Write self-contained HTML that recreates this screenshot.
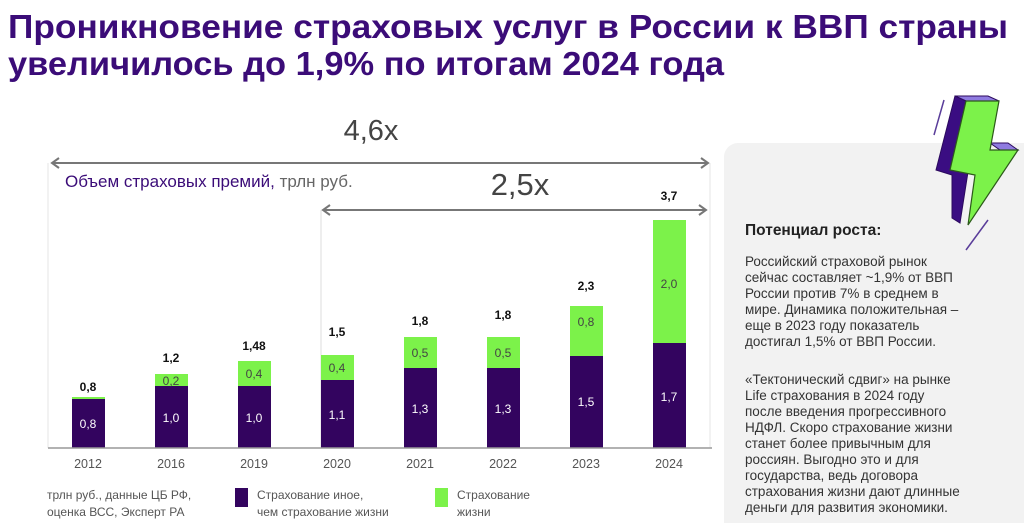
<!DOCTYPE html>
<html><head><meta charset="utf-8"><style>
html,body{margin:0;padding:0;background:#fff;width:1024px;height:523px;overflow:hidden}
svg{display:block}
text{font-family:"Liberation Sans",sans-serif}
</style></head><body>
<svg width="1024" height="523" viewBox="0 0 1024 523" xmlns="http://www.w3.org/2000/svg">
<text x="8" y="38" font-size="33" font-weight="bold" fill="#3b0c78" textLength="1000" lengthAdjust="spacingAndGlyphs">Проникновение страховых услуг в России к ВВП страны</text>
<text x="8" y="75" font-size="33" font-weight="bold" fill="#3b0c78" textLength="716" lengthAdjust="spacingAndGlyphs">увеличилось до 1,9% по итогам 2024 года</text>

<rect x="724" y="143" width="320" height="400" rx="14" fill="#f2f2f2"/>
<!-- lightning -->
<line x1="944" y1="100" x2="934" y2="135" stroke="#5a3d9a" stroke-width="1.5"/>
<line x1="988" y1="220" x2="966" y2="250" stroke="#5a3d9a" stroke-width="1.5"/>
<polygon points="955,96 988,96 999,101 966,101" fill="#8f7be0" stroke="#2c0a5e" stroke-width="1"/>
<polygon points="990,143 1008,143 1018,150 1000,150" fill="#8f7be0" stroke="#2c0a5e" stroke-width="1"/>
<polygon points="955,96 966,101 950,170 968,172 960,223 952,218 952,175 936,170" fill="#3a0d82" stroke="#2c0a5e" stroke-width="1"/>
<polygon points="966,101 999,101 990,150 1018,150 968,225 975,175 950,170" fill="#7cf24a" stroke="#2c5a1a" stroke-width="1.2"/>

<text x="745" y="235" font-size="15.5" font-weight="bold" fill="#222">Потенциал роста:</text>
<g font-size="13.5" fill="#333">
<text x="745" y="266">Российский страховой рынок</text>
<text x="745" y="282">сейчас составляет ~1,9% от ВВП</text>
<text x="745" y="298">России против 7% в среднем в</text>
<text x="745" y="314">мире. Динамика положительная –</text>
<text x="745" y="330">еще в 2023 году показатель</text>
<text x="745" y="346">достигал 1,5% от ВВП России.</text>
<text x="745" y="384">«Тектонический сдвиг» на рынке</text>
<text x="745" y="400">Life страхования в 2024 году</text>
<text x="745" y="416">после введения прогрессивного</text>
<text x="745" y="432">НДФЛ. Скоро страхование жизни</text>
<text x="745" y="448">станет более привычным для</text>
<text x="745" y="464">россиян. Выгодно это и для</text>
<text x="745" y="480">государства, ведь договора</text>
<text x="745" y="496">страхования жизни дают длинные</text>
<text x="745" y="512">деньги для развития экономики.</text>
</g>

<!-- arrows -->
<text x="371" y="140" font-size="29" fill="#444" text-anchor="middle">4,6x</text>
<line x1="48" y1="163" x2="48" y2="448" stroke="#e6e6e6" stroke-width="1"/>
<line x1="710" y1="163" x2="710" y2="448" stroke="#e6e6e6" stroke-width="1"/>
<line x1="52" y1="163" x2="708" y2="163" stroke="#777" stroke-width="2"/>
<polyline points="59,158 52,163 59,168" fill="none" stroke="#777" stroke-width="2"/>
<polyline points="701,158 708,163 701,168" fill="none" stroke="#777" stroke-width="2"/>
<text x="520" y="195" font-size="31" fill="#444" text-anchor="middle">2,5x</text>
<line x1="321" y1="210" x2="321" y2="448" stroke="#ddd" stroke-width="1"/>
<line x1="323" y1="210" x2="706" y2="210" stroke="#777" stroke-width="2"/>
<polyline points="330,205 323,210 330,215" fill="none" stroke="#777" stroke-width="2"/>
<polyline points="699,205 706,210 699,215" fill="none" stroke="#777" stroke-width="2"/>

<text x="65" y="187" font-size="17" fill="#3b0c78">Объем страховых премий,<tspan fill="#666"> трлн руб.</tspan></text>

<g>
<rect x="72" y="399" width="33" height="49" fill="#33045f"/><rect x="72" y="397" width="33" height="2" fill="#7cf24a"/>
<rect x="155" y="386" width="33" height="62" fill="#33045f"/><rect x="155" y="374" width="33" height="12" fill="#7cf24a"/>
<rect x="238" y="386" width="33" height="62" fill="#33045f"/><rect x="238" y="361" width="33" height="25" fill="#7cf24a"/>
<rect x="321" y="380" width="33" height="68" fill="#33045f"/><rect x="321" y="355" width="33" height="25" fill="#7cf24a"/>
<rect x="404" y="368" width="33" height="80" fill="#33045f"/><rect x="404" y="337" width="33" height="31" fill="#7cf24a"/>
<rect x="487" y="368" width="33" height="80" fill="#33045f"/><rect x="487" y="337" width="33" height="31" fill="#7cf24a"/>
<rect x="570" y="356" width="33" height="92" fill="#33045f"/><rect x="570" y="306" width="33" height="50" fill="#7cf24a"/>
<rect x="653" y="343" width="33" height="105" fill="#33045f"/><rect x="653" y="220" width="33" height="123" fill="#7cf24a"/>
</g>
<line x1="48" y1="448" x2="712" y2="448" stroke="#999" stroke-width="1.5"/>
<g font-size="12" fill="#fff" text-anchor="middle">
<text x="88" y="428">0,8</text><text x="171" y="422">1,0</text><text x="254" y="422">1,0</text><text x="337" y="419">1,1</text>
<text x="420" y="413">1,3</text><text x="503" y="413">1,3</text><text x="586" y="406">1,5</text><text x="669" y="401">1,7</text>
</g>
<g font-size="12" fill="#444" text-anchor="middle">
<text x="171" y="385">0,2</text><text x="254" y="378">0,4</text><text x="337" y="372">0,4</text>
<text x="420" y="357">0,5</text><text x="503" y="357">0,5</text><text x="586" y="326">0,8</text><text x="669" y="288">2,0</text>
</g>
<g font-size="12" font-weight="bold" fill="#111" text-anchor="middle">
<text x="88" y="391">0,8</text><text x="171" y="362">1,2</text><text x="254" y="350">1,48</text><text x="337" y="336">1,5</text>
<text x="420" y="325">1,8</text><text x="503" y="319">1,8</text><text x="586" y="290">2,3</text><text x="669" y="200">3,7</text>
</g>
<g font-size="12.5" fill="#555" text-anchor="middle">
<text x="88" y="468">2012</text><text x="171" y="468">2016</text><text x="254" y="468">2019</text><text x="337" y="468">2020</text>
<text x="420" y="468">2021</text><text x="503" y="468">2022</text><text x="586" y="468">2023</text><text x="669" y="468">2024</text>
</g>
<g font-size="12" fill="#555">
<text x="47" y="499">трлн руб., данные ЦБ РФ,</text>
<text x="47" y="516">оценка ВСС, Эксперт РА</text>
<rect x="235" y="488" width="13" height="19" fill="#33045f"/>
<text x="257" y="499">Страхование иное,</text>
<text x="257" y="516">чем страхование жизни</text>
<rect x="435" y="488" width="13" height="19" fill="#7cf24a"/>
<text x="457" y="499">Страхование</text>
<text x="457" y="516">жизни</text>
</g>
</svg>
</body></html>
